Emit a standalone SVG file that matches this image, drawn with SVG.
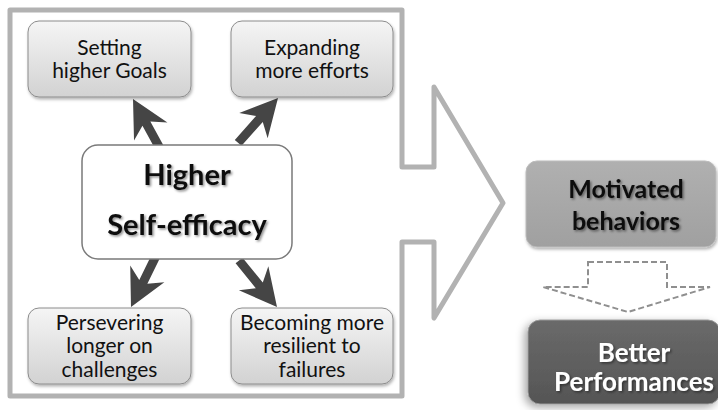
<svg xmlns="http://www.w3.org/2000/svg" xmlns:xlink="http://www.w3.org/1999/xlink" width="718" height="410" viewBox="0 0 718 410">
  <defs>
    <style>
      .frame { fill: none; stroke: #b2b2b2; stroke-width: 5; stroke-linejoin: round; }
      .card { fill: url(#cardFill); stroke: #8c8c8c; stroke-width: 1; filter: url(#softShadow); }
      .core { fill: #ffffff; stroke: #7a7a7a; stroke-width: 1.5; }
      .lbl { font-family: Lato, "Open Sans", "Liberation Sans", sans-serif; font-size: 21px; fill: #111; text-anchor: middle; }
      .big { font-family: Lato, "Open Sans", "Liberation Sans", sans-serif; font-weight: bold; text-anchor: middle; filter: url(#textShadow); }
      .fat { fill: #454545; }
      .dash { fill: none; stroke: #8f8f8f; stroke-width: 2; stroke-dasharray: 6 3; }
    </style>
    <linearGradient id="cardFill" x1="0" y1="0" x2="0" y2="1">
      <stop offset="0" stop-color="#f5f5f5"/>
      <stop offset="1" stop-color="#d2d2d2"/>
    </linearGradient>
    <linearGradient id="midFill" x1="0" y1="0" x2="0" y2="1">
      <stop offset="0" stop-color="#b0b0b0"/>
      <stop offset="1" stop-color="#a0a0a0"/>
    </linearGradient>
    <linearGradient id="darkFill" x1="0" y1="0" x2="0" y2="1">
      <stop offset="0" stop-color="#6a6a6a"/>
      <stop offset="1" stop-color="#555555"/>
    </linearGradient>
    <filter id="softShadow" x="-10%" y="-10%" width="125%" height="130%">
      <feDropShadow dx="1" dy="2" stdDeviation="1.5" flood-color="#000" flood-opacity="0.3"/>
    </filter>
    <filter id="glow" x="-20%" y="-20%" width="140%" height="150%">
      <feDropShadow dx="-3" dy="3" stdDeviation="4" flood-color="#000" flood-opacity="0.35"/>
    </filter>
    <filter id="textShadow" x="-10%" y="-20%" width="120%" height="150%">
      <feDropShadow dx="1.5" dy="1.5" stdDeviation="1" flood-color="#000" flood-opacity="0.45"/>
    </filter>
    <!-- fat block arrow, tip at origin, pointing along +x; the tail hides under the centre node -->
    <path id="fatArrow" d="M0,0 L-37,-19 L-28,-4.5 L-60,-4.5 L-60,4.5 L-28,4.5 L-37,19 Z"/>
  </defs>

  <!-- frame around the cluster, merging into the big hollow arrow -->
  <path class="frame" d="M10,10 H402 V167 H434 V87 L503,203 L434,318 V242 H402 V396 H10 Z"/>

  <!-- connectors from the centre node -->
  <g id="connectors" class="fat">
    <use xlink:href="#fatArrow" transform="translate(133,99) rotate(-118.6)"/>
    <use xlink:href="#fatArrow" transform="translate(278,98) rotate(-48.4)"/>
    <use xlink:href="#fatArrow" transform="translate(131,307) rotate(116.1)"/>
    <use xlink:href="#fatArrow" transform="translate(277,307) rotate(50.8)"/>
  </g>

  <g id="node-goals">
    <rect class="card" x="28" y="21" width="163" height="76" rx="11"/>
    <text class="lbl" x="109.5" y="55">Setting</text>
    <text class="lbl" x="109.5" y="78">higher Goals</text>
  </g>

  <g id="node-efforts">
    <rect class="card" x="231" y="21" width="162" height="76" rx="11"/>
    <text class="lbl" x="312" y="55">Expanding</text>
    <text class="lbl" x="312" y="78">more efforts</text>
  </g>

  <g id="node-persevering">
    <rect class="card" x="28" y="308" width="163" height="76" rx="11"/>
    <text class="lbl" x="109.5" y="330">Persevering</text>
    <text class="lbl" x="109.5" y="353">longer on</text>
    <text class="lbl" x="109.5" y="377">challenges</text>
  </g>

  <g id="node-resilient">
    <rect class="card" x="231" y="308" width="162" height="76" rx="11"/>
    <text class="lbl" x="312" y="330">Becoming more</text>
    <text class="lbl" x="312" y="353">resilient to</text>
    <text class="lbl" x="312" y="377">failures</text>
  </g>

  <g id="node-self-efficacy">
    <rect class="core" x="82" y="145" width="210" height="114" rx="16"/>
    <text class="big" x="187" y="185" font-size="29" fill="#111">Higher</text>
    <text class="big" x="187" y="235" font-size="29" fill="#111">Self-efficacy</text>
  </g>

  <g id="node-motivated">
    <rect x="526" y="161" width="190" height="86" rx="11" fill="url(#midFill)" stroke="#bcbcbc" stroke-width="1" filter="url(#softShadow)"/>
    <text class="big" x="626" y="198" font-size="25" fill="#111">Motivated</text>
    <text class="big" x="626" y="230" font-size="25" fill="#111">behaviors</text>
  </g>

  <!-- dashed hollow arrow between the two outcome nodes -->
  <g id="connector-outcome">
    <path class="dash" d="M588,262 H667 V287 H710 L628,312 L543,287 H588 Z"/>
  </g>

  <g id="node-performances">
    <rect x="528" y="320" width="192" height="84" rx="12" fill="url(#darkFill)" stroke="#9a9a9a" stroke-width="1" filter="url(#glow)"/>
    <text class="big" x="634" y="362" font-size="26" fill="#ffffff">Better</text>
    <text class="big" x="634" y="391" font-size="26" fill="#ffffff">Performances</text>
  </g>
</svg>
